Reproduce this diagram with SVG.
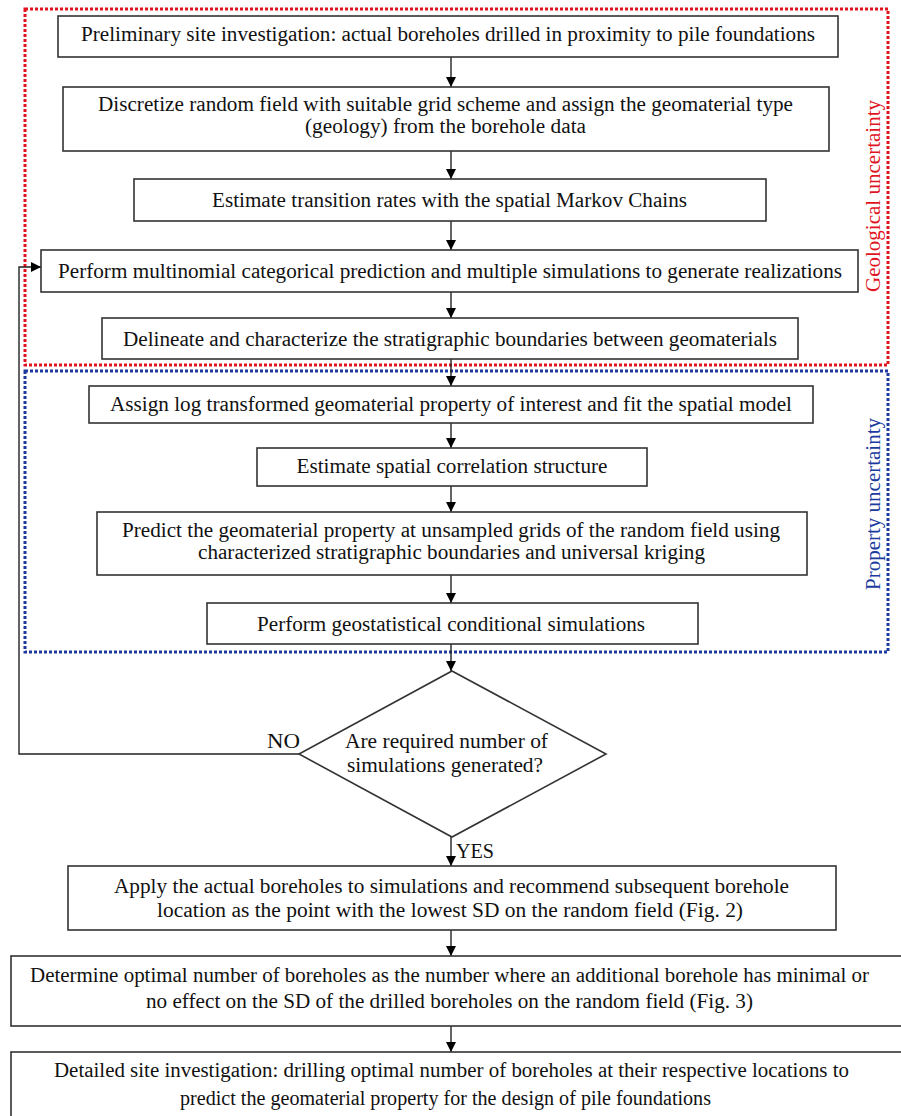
<svg xmlns="http://www.w3.org/2000/svg" width="901" height="1116" viewBox="0 0 901 1116">
<style>
.box{fill:#fff;stroke:#333;stroke-width:1.6}
.t{font-size:20px;fill:#111;text-anchor:middle}
.conn{fill:none;stroke:#222;stroke-width:1.4}
.red{fill:none;stroke:#e0141e;stroke-width:3;stroke-dasharray:3 2}
.blue{fill:none;stroke:#1c3a9e;stroke-width:3;stroke-dasharray:3 2}
</style>
<defs>
<marker id="ah" viewBox="0 0 10 10" refX="10" refY="5" markerWidth="10" markerHeight="10" markerUnits="userSpaceOnUse" orient="auto">
<path d="M0,0 L10,5 L0,10 Z" fill="#000"/>
</marker>
</defs>
<rect fill="#fff" x="0" y="0" width="901" height="1116"/>
<g id="regions">
<rect class="red" x="25" y="9" width="863" height="356"/>
<rect class="blue" x="25" y="371" width="863" height="281"/>
<text class="t" font-family="Liberation Serif" style="fill:#e0141e" transform="translate(880,196) rotate(-90)" textLength="192" lengthAdjust="spacingAndGlyphs">Geological uncertainty</text>
<text class="t" font-family="Liberation Serif" style="fill:#1c3a9e" transform="translate(880,504) rotate(-90)" textLength="172" lengthAdjust="spacingAndGlyphs">Property uncertainty</text>
</g>
<g id="connectors">
<line class="conn" x1="451" y1="57" x2="451" y2="87" marker-end="url(#ah)"/>
<line class="conn" x1="451" y1="151" x2="451" y2="179" marker-end="url(#ah)"/>
<line class="conn" x1="451" y1="221" x2="451" y2="250" marker-end="url(#ah)"/>
<line class="conn" x1="451" y1="292" x2="451" y2="318" marker-end="url(#ah)"/>
<line class="conn" x1="451" y1="359" x2="451" y2="386" marker-end="url(#ah)"/>
<line class="conn" x1="451" y1="423" x2="451" y2="448" marker-end="url(#ah)"/>
<line class="conn" x1="451" y1="486" x2="451" y2="512" marker-end="url(#ah)"/>
<line class="conn" x1="451" y1="575" x2="451" y2="603" marker-end="url(#ah)"/>
<line class="conn" x1="451" y1="644" x2="451" y2="671" marker-end="url(#ah)"/>
<line class="conn" x1="451" y1="837" x2="451" y2="866" marker-end="url(#ah)"/>
<line class="conn" x1="451" y1="930" x2="451" y2="956" marker-end="url(#ah)"/>
<line class="conn" x1="451" y1="1026" x2="451" y2="1052" marker-end="url(#ah)"/>
<polyline class="conn" points="299,754 19,754 19,267 41,267" marker-end="url(#ah)"/>
<text class="t" font-family="Liberation Serif" x="283.5" y="748" textLength="33" lengthAdjust="spacingAndGlyphs">NO</text>
<text class="t" font-family="Liberation Serif" x="475" y="858" textLength="38" lengthAdjust="spacingAndGlyphs">YES</text>
</g>
<g id="n1">
<rect class="box" x="58" y="16" width="780" height="41"/>
<text class="t" font-family="Liberation Serif" x="448" y="41" textLength="734" lengthAdjust="spacingAndGlyphs">Preliminary site investigation: actual boreholes drilled in proximity to pile foundations</text>
</g>
<g id="n2">
<rect class="box" x="63" y="87" width="766" height="64"/>
<text class="t" font-family="Liberation Serif" x="445.5" y="111" textLength="695" lengthAdjust="spacingAndGlyphs">Discretize random field with suitable grid scheme and assign the geomaterial type</text>
<text class="t" font-family="Liberation Serif" x="445.5" y="133" textLength="281" lengthAdjust="spacingAndGlyphs">(geology) from the borehole data</text>
</g>
<g id="n3">
<rect class="box" x="134" y="179" width="632" height="42"/>
<text class="t" font-family="Liberation Serif" x="449.5" y="207" textLength="475" lengthAdjust="spacingAndGlyphs">Estimate transition rates with the spatial Markov Chains</text>
</g>
<g id="n4">
<rect class="box" x="41" y="250" width="817" height="42"/>
<text class="t" font-family="Liberation Serif" x="450" y="278" textLength="784" lengthAdjust="spacingAndGlyphs">Perform multinomial categorical prediction and multiple simulations to generate realizations</text>
</g>
<g id="n5">
<rect class="box" x="102" y="318" width="696" height="41"/>
<text class="t" font-family="Liberation Serif" x="450" y="346" textLength="654" lengthAdjust="spacingAndGlyphs">Delineate and characterize the stratigraphic boundaries between geomaterials</text>
</g>
<g id="n6">
<rect class="box" x="89" y="386" width="724" height="37"/>
<text class="t" font-family="Liberation Serif" x="451" y="411" textLength="682" lengthAdjust="spacingAndGlyphs">Assign log transformed geomaterial property of interest and fit the spatial model</text>
</g>
<g id="n7">
<rect class="box" x="257" y="448" width="390" height="38"/>
<text class="t" font-family="Liberation Serif" x="452" y="473" textLength="311" lengthAdjust="spacingAndGlyphs">Estimate spatial correlation structure</text>
</g>
<g id="n8">
<rect class="box" x="97" y="512" width="710" height="63"/>
<text class="t" font-family="Liberation Serif" x="451" y="537" textLength="658" lengthAdjust="spacingAndGlyphs">Predict the geomaterial property at unsampled grids of the random field using</text>
<text class="t" font-family="Liberation Serif" x="451.5" y="559" textLength="507" lengthAdjust="spacingAndGlyphs">characterized stratigraphic boundaries and universal kriging</text>
</g>
<g id="n9">
<rect class="box" x="207" y="603" width="491" height="41"/>
<text class="t" font-family="Liberation Serif" x="451" y="631" textLength="388" lengthAdjust="spacingAndGlyphs">Perform geostatistical conditional simulations</text>
</g>
<g id="decision">
<polygon class="box" points="452,671 606,754 452,837 299,754"/>
<text class="t" font-family="Liberation Serif" x="446.5" y="748" textLength="203" lengthAdjust="spacingAndGlyphs">Are required number of</text>
<text class="t" font-family="Liberation Serif" x="445" y="772" textLength="196" lengthAdjust="spacingAndGlyphs">simulations generated?</text>
</g>
<g id="n10">
<rect class="box" x="68" y="866" width="768" height="64"/>
<text class="t" font-family="Liberation Serif" x="451.5" y="893" textLength="675" lengthAdjust="spacingAndGlyphs">Apply the actual boreholes to simulations and recommend subsequent borehole</text>
<text class="t" font-family="Liberation Serif" x="450" y="917" textLength="586" lengthAdjust="spacingAndGlyphs">location as the point with the lowest SD on the random field (Fig. 2)</text>
</g>
<g id="n11">
<rect class="box" x="11" y="956" width="900" height="70"/>
<text class="t" font-family="Liberation Serif" x="449.5" y="982" textLength="839" lengthAdjust="spacingAndGlyphs">Determine optimal number of boreholes as the number where an additional borehole has minimal or</text>
<text class="t" font-family="Liberation Serif" x="449.5" y="1008" textLength="607" lengthAdjust="spacingAndGlyphs">no effect on the SD of the drilled boreholes on the random field (Fig. 3)</text>
</g>
<g id="n12">
<rect class="box" x="11" y="1052" width="900" height="80"/>
<text class="t" font-family="Liberation Serif" x="451.5" y="1077" textLength="795" lengthAdjust="spacingAndGlyphs">Detailed site investigation: drilling optimal number of boreholes at their respective locations to</text>
<text class="t" font-family="Liberation Serif" x="445.5" y="1105" textLength="531" lengthAdjust="spacingAndGlyphs">predict the geomaterial property for the design of pile foundations</text>
</g>
</svg>
